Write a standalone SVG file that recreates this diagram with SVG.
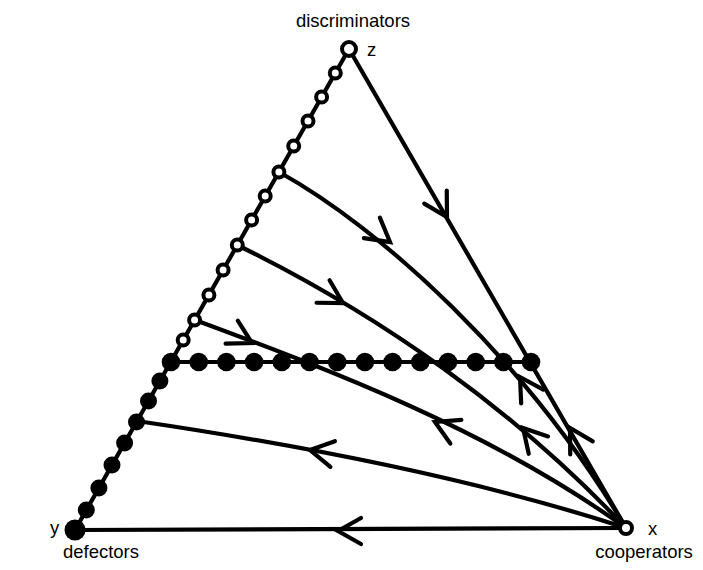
<svg xmlns="http://www.w3.org/2000/svg" xmlns:xlink="http://www.w3.org/1999/xlink" width="703" height="570" viewBox="0 0 703 570">
<style>
.ln{fill:none;stroke:#000;stroke-width:4.2;stroke-linecap:round;stroke-linejoin:round}
.chev{fill:none;stroke:#000;stroke-width:4.2;stroke-linecap:round;stroke-linejoin:miter}
.open{fill:#fff;stroke:#000;stroke-width:4}
.fill{fill:#000;stroke:none}
.lbl{font-family:"Liberation Sans",Arial,sans-serif;font-size:18.5px;fill:#000}
</style>
<defs>
<path id="chev" class="chev" d="M-23,-13 L0,0 L-23,13"/>
</defs>
<rect width="703" height="570" fill="#fff"/>
<g id="connectors">
<path class="ln" d="M75,530 L349,49"/>
<path class="ln" d="M349,49 L626,528"/>
<path class="ln" d="M75,530 L626,528"/>
<path class="ln" d="M171,362 L531,362"/>
<path class="ln" d="M279,172 C380,228 525,358 626,528"/>
<path class="ln" d="M237,245 C380,315 515,410 626,528"/>
<path class="ln" d="M195,320 C330,370 490,430 626,528"/>
<path class="ln" d="M137,421 C300,445 480,480 626,528"/>
<use xlink:href="#chev" transform="translate(447,217) rotate(60)"/>
<use xlink:href="#chev" transform="translate(570,428) rotate(240)"/>
<use xlink:href="#chev" transform="translate(390,242) rotate(38)"/>
<use xlink:href="#chev" transform="translate(520,377) rotate(238)"/>
<use xlink:href="#chev" transform="translate(343,303) rotate(30)"/>
<use xlink:href="#chev" transform="translate(523,428) rotate(228)"/>
<use xlink:href="#chev" transform="translate(252,343) rotate(28)"/>
<use xlink:href="#chev" transform="translate(435,422) rotate(205)"/>
<use xlink:href="#chev" transform="translate(310,450) rotate(190)"/>
<use xlink:href="#chev" transform="translate(338,531) rotate(180)"/>
</g>
<g id="fixed-line-dots">
<circle class="fill" cx="171" cy="362" r="9.3"/>
<circle class="fill" cx="198.7" cy="362" r="9.3"/>
<circle class="fill" cx="226.4" cy="362" r="9.3"/>
<circle class="fill" cx="254.1" cy="362" r="9.3"/>
<circle class="fill" cx="281.8" cy="362" r="9.3"/>
<circle class="fill" cx="309.5" cy="362" r="9.3"/>
<circle class="fill" cx="337.2" cy="362" r="9.3"/>
<circle class="fill" cx="364.9" cy="362" r="9.3"/>
<circle class="fill" cx="392.6" cy="362" r="9.3"/>
<circle class="fill" cx="420.3" cy="362" r="9.3"/>
<circle class="fill" cx="448" cy="362" r="9.3"/>
<circle class="fill" cx="475.7" cy="362" r="9.3"/>
<circle class="fill" cx="503.4" cy="362" r="9.3"/>
<circle class="fill" cx="531" cy="362" r="9.3"/>
</g>
<g id="left-edge-filled">
<circle class="fill" cx="159.9" cy="381" r="8.5"/>
<circle class="fill" cx="148.5" cy="401" r="8.5"/>
<circle class="fill" cx="136.5" cy="422" r="8.5"/>
<circle class="fill" cx="124.6" cy="443" r="8.5"/>
<circle class="fill" cx="112" cy="465" r="8.5"/>
<circle class="fill" cx="98.9" cy="488" r="8.5"/>
<circle class="fill" cx="86.3" cy="510" r="8.5"/>
</g>
<g id="left-edge-open">
<circle class="open" cx="335.3" cy="73" r="5.5"/>
<circle class="open" cx="321.6" cy="97" r="5.5"/>
<circle class="open" cx="308" cy="121" r="5.5"/>
<circle class="open" cx="293.7" cy="146" r="5.5"/>
<circle class="open" cx="278.9" cy="172" r="5.5"/>
<circle class="open" cx="265.2" cy="196" r="5.5"/>
<circle class="open" cx="251.6" cy="220" r="5.5"/>
<circle class="open" cx="237.3" cy="245" r="5.5"/>
<circle class="open" cx="223.1" cy="270" r="5.5"/>
<circle class="open" cx="208.9" cy="295" r="5.5"/>
<circle class="open" cx="194.6" cy="320" r="5.5"/>
<circle class="open" cx="183.2" cy="340" r="5.5"/>
</g>
<g id="node-z">
<circle class="open" cx="349" cy="49" r="7"/>
<text class="lbl" x="367" y="56">z</text>
<text class="lbl" x="353" y="27" text-anchor="middle">discriminators</text>
</g>
<g id="node-y">
<circle class="fill" cx="75" cy="530" r="10.5"/>
<text class="lbl" x="50" y="534">y</text>
<text class="lbl" x="101" y="558" text-anchor="middle">defectors</text>
</g>
<g id="node-x">
<circle class="open" cx="626" cy="528" r="6"/>
<text class="lbl" x="648" y="535">x</text>
<text class="lbl" x="644" y="558" text-anchor="middle">cooperators</text>
</g>
</svg>
